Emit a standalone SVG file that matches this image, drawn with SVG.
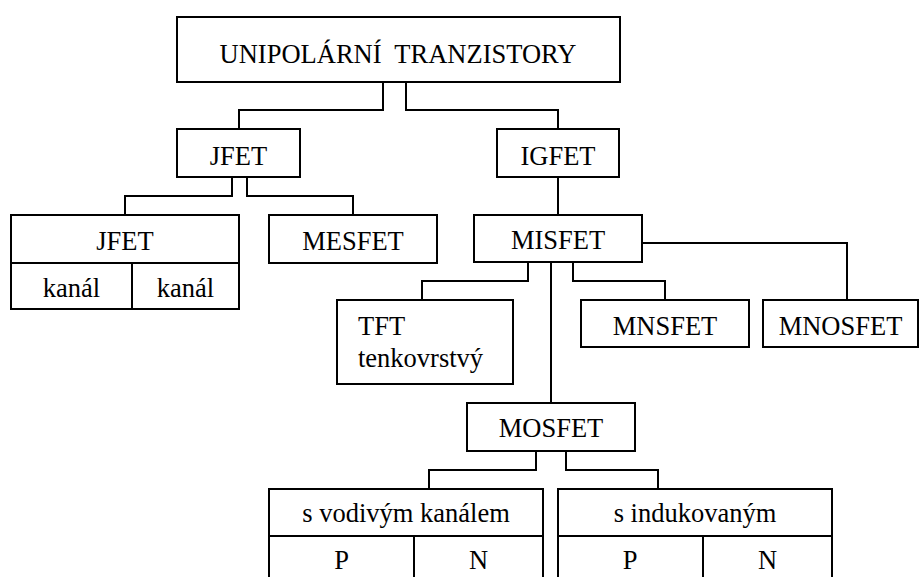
<svg xmlns="http://www.w3.org/2000/svg" width="919" height="577" viewBox="0 0 919 577">
<style>
.box{fill:#fff;stroke:#000;stroke-width:2}
.ln{fill:none;stroke:#000;stroke-width:2}
.t{font-family:'Liberation Serif','Times New Roman',serif;font-size:26.5px;fill:#000}
.c{text-anchor:middle}
</style>
<rect width="919" height="577" fill="#fff"/>
<g id="connectors" class="ln">
<path d="M383,82 V110 H239 V129"/>
<path d="M406,82 V110 H558 V129"/>
<path d="M232,177 V196 H125 V215"/>
<path d="M247,177 V196 H353 V215"/>
<path d="M558,177 V215"/>
<path d="M528,262 V281 H422 V300"/>
<path d="M551,262 V403"/>
<path d="M573,262 V281 H665 V300"/>
<path d="M642,243 H847 V300"/>
<path d="M536,451 V470 H429 V489"/>
<path d="M566,451 V470 H658 V489"/>
</g>
<g id="unipolarni">
<rect class="box" x="177" y="17" width="443" height="65"/>
<text class="t c" x="398" y="63" xml:space="preserve">UNIPOLÁRNÍ  TRANZISTORY</text>
</g>
<g id="jfet">
<rect class="box" x="177" y="129" width="123" height="48"/>
<text class="t c" x="238.5" y="165">JFET</text>
</g>
<g id="igfet">
<rect class="box" x="497" y="129" width="122" height="48"/>
<text class="t c" x="558" y="165">IGFET</text>
</g>
<g id="jfet-kanal">
<rect class="box" x="11" y="215" width="228" height="94"/>
<path class="ln" d="M11,263 H239 M132,263 V309"/>
<text class="t c" x="125" y="250">JFET</text>
<text class="t c" x="71.5" y="297">kanál</text>
<text class="t c" x="185.5" y="297">kanál</text>
</g>
<g id="mesfet">
<rect class="box" x="269" y="215" width="168" height="48"/>
<text class="t c" x="353" y="250">MESFET</text>
</g>
<g id="misfet">
<rect class="box" x="474" y="215" width="168" height="47"/>
<text class="t c" x="558" y="249">MISFET</text>
</g>
<g id="tft">
<rect class="box" x="337" y="300" width="176" height="84"/>
<text class="t" x="358" y="335">TFT</text>
<text class="t" x="358" y="367">tenkovrstvý</text>
</g>
<g id="mnsfet">
<rect class="box" x="581" y="300" width="168" height="47"/>
<text class="t c" x="665" y="335">MNSFET</text>
</g>
<g id="mnosfet">
<rect class="box" x="763" y="300" width="155" height="47"/>
<text class="t c" x="840.5" y="335">MNOSFET</text>
</g>
<g id="mosfet">
<rect class="box" x="467" y="403" width="168" height="48"/>
<text class="t c" x="551" y="437">MOSFET</text>
</g>
<g id="vodivy">
<rect class="box" x="269" y="489" width="274" height="110"/>
<path class="ln" d="M269,536 H543 M414,536 V599"/>
<text class="t c" x="406" y="522">s vodivým kanálem</text>
<text class="t c" x="341.5" y="569">P</text>
<text class="t c" x="478.5" y="569">N</text>
</g>
<g id="indukovany">
<rect class="box" x="558" y="489" width="274" height="110"/>
<path class="ln" d="M558,536 H832 M703,536 V599"/>
<text class="t c" x="695" y="522">s indukovaným</text>
<text class="t c" x="630" y="569">P</text>
<text class="t c" x="767.5" y="569">N</text>
</g>
</svg>
